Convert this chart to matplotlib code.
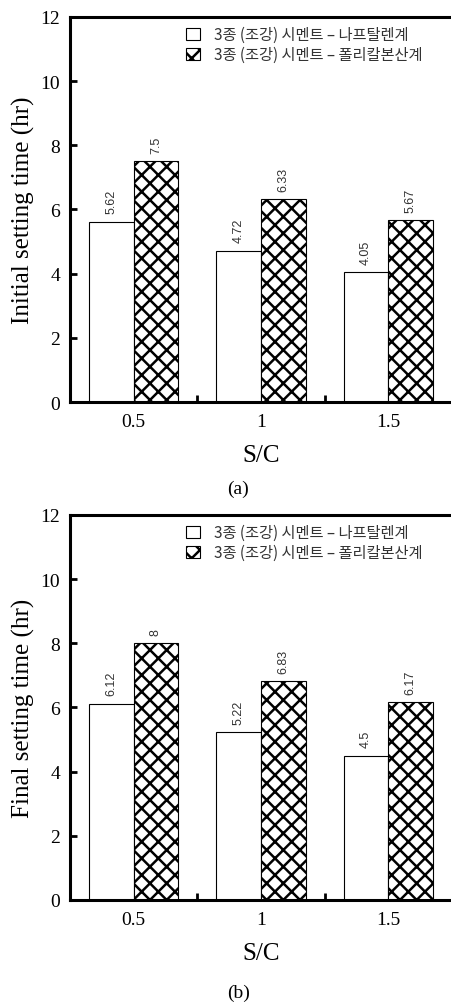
import numpy as np
import matplotlib.pyplot as plt

# S/C ratio categories
sc_labels = ['0.5', '1', '1.5']

# setting times (hr)
initial_naph = [5.62, 4.72, 4.05]
initial_poly = [7.5, 6.33, 5.67]
final_naph = [6.12, 5.22, 4.5]
final_poly = [8, 6.83, 6.17]

legend_labels = ['3종 (조강) 시멘트 – 나프탈렌계', '3종 (조강) 시멘트 – 폴리칼본산계']

plt.rcParams['hatch.linewidth'] = 1.8
serif = 'Liberation Serif'
kfont = ['Noto Sans CJK KR', 'DejaVu Sans']


def draw_panel(ax, naph, poly, ylabel):
    x = np.arange(len(sc_labels))
    w = 0.35
    b1 = ax.bar(x - w / 2, naph, w, color='white', edgecolor='black', linewidth=0.8,
                label=legend_labels[0])
    b2 = ax.bar(x + w / 2, poly, w, color='white', edgecolor='black', linewidth=0.8,
                hatch='xx', label=legend_labels[1])
    for bars, vals in ((b1, naph), (b2, poly)):
        for r, v in zip(bars, vals):
            ax.annotate(f'{v:g}', (r.get_x() + r.get_width() / 2, v), xytext=(0, 6),
                        textcoords='offset points', rotation=90, ha='center', va='bottom',
                        fontsize=9, family='Liberation Sans', color='#333333')

    ax.set_xlim(-0.5, 2.5)
    ax.set_ylim(0, 12)
    ax.set_yticks([0, 2, 4, 6, 8, 10, 12])
    ax.set_xticks(x)
    ax.set_xticklabels(sc_labels)
    ax.set_xticks([0.5, 1.5], minor=True)
    ax.tick_params(axis='x', which='major', length=0, pad=8)
    ax.tick_params(axis='x', which='minor', direction='in', length=5, width=2)
    ax.tick_params(axis='y', direction='in', length=5, width=2, pad=7)
    for lab in ax.get_xticklabels() + ax.get_yticklabels():
        lab.set_fontfamily(serif)
        lab.set_fontsize(14)
    for s in ['left', 'bottom', 'top']:
        ax.spines[s].set_linewidth(2.2)
    ax.spines['right'].set_visible(False)
    ax.set_xlabel('S/C', family=serif, fontsize=18, labelpad=10)
    ax.set_ylabel(ylabel, family=serif, fontsize=18, labelpad=4)

    leg = ax.legend(loc='upper left', bbox_to_anchor=(0.28, 1.0), frameon=False,
                    prop={'family': kfont, 'size': 11}, handlelength=0.9, handleheight=0.9,
                    handletextpad=0.9, labelspacing=0.2, borderaxespad=0.2)
    for t in leg.get_texts():
        t.set_color('#333333')


def main():
    fig = plt.figure(figsize=(4.52, 10.04), dpi=100)
    ax1 = fig.add_axes([0.1549, 0.5986, 0.8451, 0.3835])
    ax2 = fig.add_axes([0.1549, 0.1026, 0.8451, 0.3835])

    draw_panel(ax1, initial_naph, initial_poly, 'Initial setting time (hr)')
    draw_panel(ax2, final_naph, final_poly, 'Final setting time (hr)')

    fig.text(0.527, 1 - 489 / 1004, '(a)', family=serif, fontsize=14, ha='center', va='center')
    fig.text(0.527, 1 - 993 / 1004, '(b)', family=serif, fontsize=14, ha='center', va='center')

    plt.savefig('out.png', dpi=100)


if __name__ == "__main__":
    main()
